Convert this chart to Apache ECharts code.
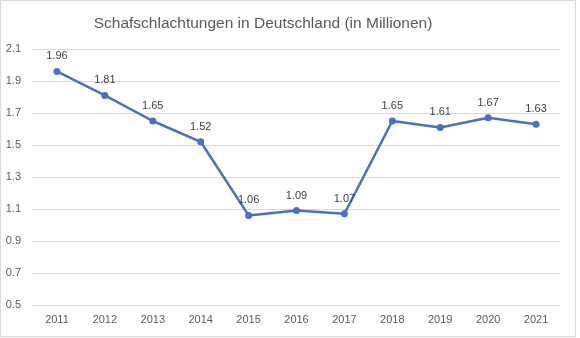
<!DOCTYPE html>
<html>
<head>
<meta charset="utf-8">
<script src="https://cdn.jsdelivr.net/npm/echarts@6/dist/echarts.min.js"></script>
<style>html,body{margin:0;padding:0;background:#fff}#c{width:580px;height:338px}</style>
</head>
<body>
<div id="c"></div>
<script>
const categories = ["2011","2012","2013","2014","2015","2016","2017","2018","2019","2020","2021"];
const values = [1.96, 1.81, 1.65, 1.52, 1.06, 1.09, 1.07, 1.65, 1.61, 1.67, 1.63];
const titleText = "Schafschlachtungen in Deutschland (in Millionen)";
const yMin = 0.5, yMax = 2.1, yStep = 0.2;

const chart = echarts.init(document.getElementById('c'), null, {renderer: 'canvas'});
chart.setOption({
  animation: false,
  backgroundColor: '#fff',
  graphic: [{
    type: 'rect', shape: {x: 0.5, y: 0.5, width: 575, height: 336},
    style: {fill: 'none', stroke: '#d9d9d9', lineWidth: 1}, silent: true
  }],
  title: {
    text: titleText, left: 258, top: 11, textAlign: 'center',
    textStyle: {fontFamily: 'Liberation Sans', fontSize: 15.5, fontWeight: 'normal', color: '#595959'}
  },
  grid: {left: 33, right: 20, top: 49, bottom: 33, containLabel: false},
  xAxis: {
    type: 'category', data: categories, boundaryGap: true,
    axisLine: {lineStyle: {color: '#d9d9d9'}},
    axisTick: {show: false},
    axisLabel: {color: '#595959', fontFamily: 'Liberation Sans', fontSize: 11, margin: 9}
  },
  yAxis: {
    type: 'value', min: yMin, max: yMax, interval: yStep,
    axisLine: {show: false}, axisTick: {show: false},
    splitLine: {lineStyle: {color: '#d9d9d9'}},
    axisLabel: {color: '#595959', fontFamily: 'Liberation Sans', fontSize: 11, margin: 12,
      formatter: v => v.toFixed(1)}
  },
  series: [{
    type: 'line', data: values,
    symbol: 'circle', symbolSize: 7,
    lineStyle: {color: '#4472C4', width: 2.5},
    itemStyle: {color: '#4472C4'},
    label: {show: true, position: 'top', distance: 6, color: '#404040',
      fontFamily: 'Liberation Sans', fontSize: 11, formatter: p => p.value.toFixed(2)}
  }]
});
</script>
</body>
</html>
